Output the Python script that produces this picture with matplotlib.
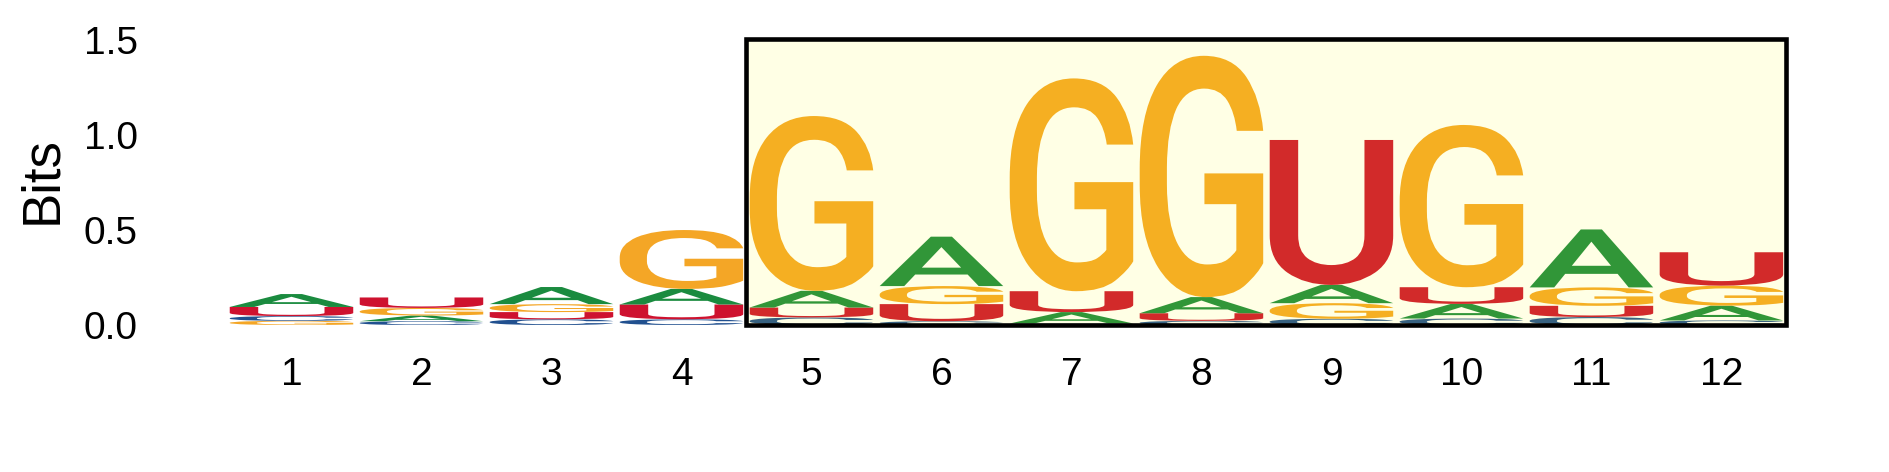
import numpy as np
import matplotlib
matplotlib.use("Agg")
import matplotlib.pyplot as plt
from matplotlib.textpath import TextPath
from matplotlib.patches import PathPatch, Rectangle
from matplotlib.font_manager import FontProperties
from matplotlib.transforms import Affine2D

plt.rcParams['font.family'] = ['Liberation Sans', 'DejaVu Sans']

# information content (bits) per letter at each position
positions = list(range(1, 13))
bits_A = [0.068, 0.030, 0.090, 0.082, 0.088, 0.260, 0.060, 0.085, 0.096, 0.077, 0.305, 0.078]
bits_C = [0.025, 0.020, 0.030, 0.030, 0.040, 0.020, 0.008, 0.022, 0.033, 0.034, 0.042, 0.024]
bits_G = [0.022, 0.040, 0.042, 0.310, 0.920, 0.095, 1.120, 1.270, 0.082, 0.854, 0.097, 0.105]
bits_U = [0.048, 0.055, 0.038, 0.078, 0.052, 0.090, 0.110, 0.040, 0.763, 0.088, 0.059, 0.176]
highlight = (5, 12)

colors = {'A': '#1a8b3f', 'C': '#21508f', 'G': '#f4a626', 'U': '#ce122f'}
font = FontProperties(family='Roboto', weight='medium')


def draw_letter(ax, char, x_center, y_bottom, width, height, color):
    path = TextPath((0, 0), char, size=1, prop=font)
    ext = path.get_extents()
    tr = (Affine2D()
          .translate(-ext.x0, -ext.y0)
          .scale(width / ext.width, height / ext.height)
          .translate(x_center - width / 2, y_bottom))
    patch = PathPatch(tr.transform_path(path), facecolor=color, edgecolor='none', zorder=2)
    ax.add_patch(patch)


fig = plt.figure(figsize=(18.89, 4.72), dpi=100)
ax = fig.add_axes([0.1199, 0.3114, 0.8258, 0.6239])

table = {'A': bits_A, 'C': bits_C, 'G': bits_G, 'U': bits_U}
for i, pos in enumerate(positions):
    col = sorted(((table[k][i], k) for k in table))
    y = 0.0
    for h, k in col:
        draw_letter(ax, k, pos, y, 0.95, h, colors[k])
        y += h

# highlighted region
ax.add_patch(Rectangle((highlight[0] - 0.5, 0), highlight[1] - highlight[0] + 1, 1.505,
                       facecolor=(1, 1, 0, 0.1), edgecolor='black', linewidth=3.3,
                       zorder=3, clip_on=False))

ax.set_xlim(0.5, 12.5)
ax.set_ylim(0, 1.55)
ax.set_xticks(positions)
ax.set_yticks([0.0, 0.5, 1.0, 1.5])
ax.set_yticklabels(['0.0', '0.5', '1.0', '1.5'])
ax.tick_params(axis='both', length=0, labelsize=28)
ax.tick_params(axis='x', pad=23)
ax.tick_params(axis='y', pad=64)
for s in ax.spines.values():
    s.set_visible(False)

fig.text(42 / 1889, 1 - 180 / 472, 'Bits', rotation=90, ha='center', va='center', fontsize=38)

fig.savefig('out.png', dpi=100)
